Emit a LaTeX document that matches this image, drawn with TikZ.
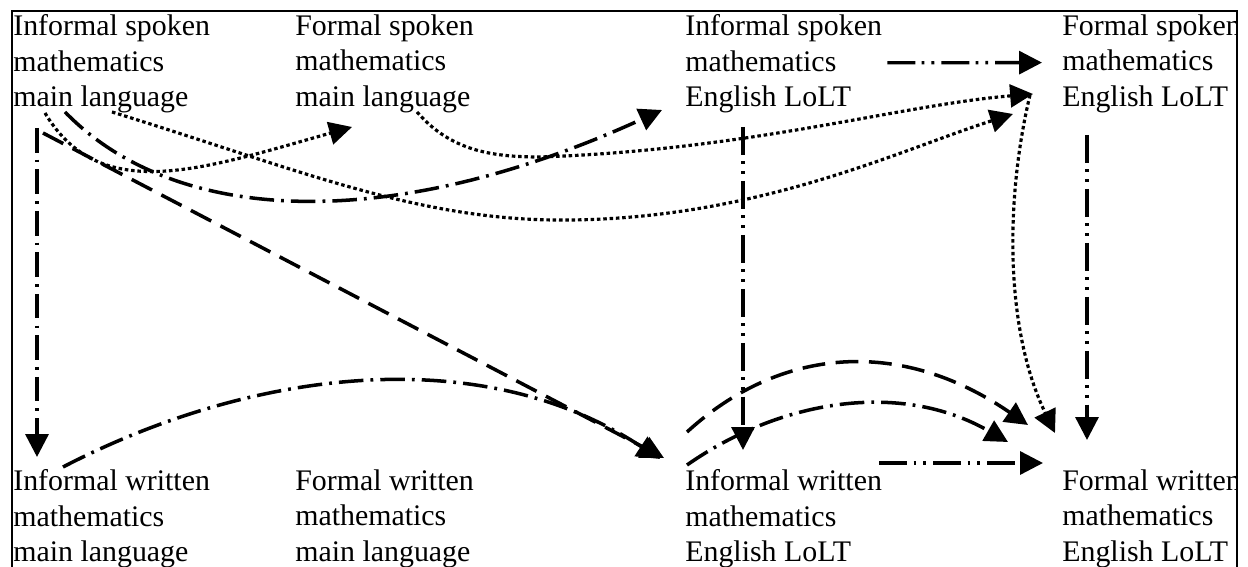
\documentclass[tikz,border=0pt]{standalone}
\usepackage{fontspec}
\setmainfont{Liberation Serif}
\usetikzlibrary{arrows.meta,calc}

\begin{document}
\begin{tikzpicture}[x=0.2mm, y=-0.2mm, >={Triangle[length=13pt,width=13pt]},
  blk/.style={anchor=north west, inner sep=0pt, align=left, font=\fontsize{17}{20.3}\selectfont},
  dashd/.style={->, line width=2pt, dash pattern=on 13pt off 6pt},
  dshdot/.style={->, line width=2pt, dash pattern=on 14pt off 4pt on 1.6pt off 4pt},
  dshdotdot/.style={->, line width=1.9pt, dash pattern=on 16pt off 3.5pt on 1.6pt off 4pt on 1.6pt off 4pt},
  dots/.style={->, line width=1.8pt, dash pattern=on 2pt off 1.6pt}]
\useasboundingbox (0,0) rectangle (1248,567);
\begin{scope}
\clip (12,11) rectangle (1237,567);
\node[blk] (isml) at (13,14) {Informal spoken\\mathematics\\main language};
\node[blk] (fsml) at (295,14) {Formal spoken\\mathematics\\main language};
\node[blk] (ise) at (685,14) {Informal spoken\\mathematics\\English LoLT};
\node[blk] (fse) at (1062,14) {Formal spoken\\mathematics\\English LoLT};
\node[blk] (iwml) at (13,469) {Informal written\\mathematics\\main language};
\node[blk] (fwml) at (295,469) {Formal written\\mathematics\\main language};
\node[blk] (iwe) at (685,469) {Informal written\\mathematics\\English LoLT};
\node[blk] (fwe) at (1062,469) {Formal written\\mathematics\\English LoLT};
\end{scope}
\draw[line width=1.2pt] (12,567) -- (12,11) -- (1237,11) -- (1237,567);

\draw[dshdot] ($(isml.north west)+(24,114)$) -- ($(iwml.north west)+(24,-12)$);
\draw[dots] ($(isml.north west)+(32,99)$) .. controls (100,205) and (200,170) .. ($(fsml.north west)+(57,113)$);
\draw[dshdot] ($(isml.north west)+(52,98)$) .. controls (180,230) and (400,230) .. ($(ise.north west)+(-23,96)$);
\draw[dots] ($(isml.north west)+(99,98)$) .. controls (300,170) and (420,222) .. (570,220)
  .. controls (760,218) and (900,150) .. ($(fse.north west)+(-49,100)$);
\draw[dashd] ($(isml.north west)+(30,119)$) -- ($(iwe.north west)+(-21,-11)$);
\draw[dots] ($(fsml.north west)+(122,98)$) .. controls (450,150) and (490,157) .. (540,157)
  .. controls (750,150) and (900,105) .. ($(fse.north west)+(-29,80)$);
\draw[dshdotdot] ($(ise.east)+(5,-1)$) -- ($(fse.west)+(-20,-1)$);
\draw[dshdotdot] ($(ise.north west)+(58,113)$) -- ($(iwe.north west)+(58,-19)$);
\draw[dots] ($(fse.north west)+(-32,81)$) .. controls (1005,200) and (1005,330) .. ($(fwe.north west)+(-7,-36)$);
\draw[dshdotdot] ($(fse.north west)+(25,121)$) -- ($(fwe.north west)+(25,-29)$);
\draw[dshdot] ($(iwml.north west)+(50,-2)$) .. controls (250,370) and (480,340) .. ($(iwe.north west)+(-25,-10)$);
\draw[dshdotdot] ($(iwe.north east)+(-3,-6)$) -- ($(fwe.north west)+(-19,-6)$);
\draw[dashd] ($(iwe.north west)+(2,-37)$) .. controls (780,347) and (900,337) .. ($(fwe.north west)+(-34,-44)$);
\draw[dshdot] ($(iwe.north west)+(2,-4)$) .. controls (780,400) and (900,380) .. ($(fwe.north west)+(-54,-27)$);
\end{tikzpicture}
\end{document}
